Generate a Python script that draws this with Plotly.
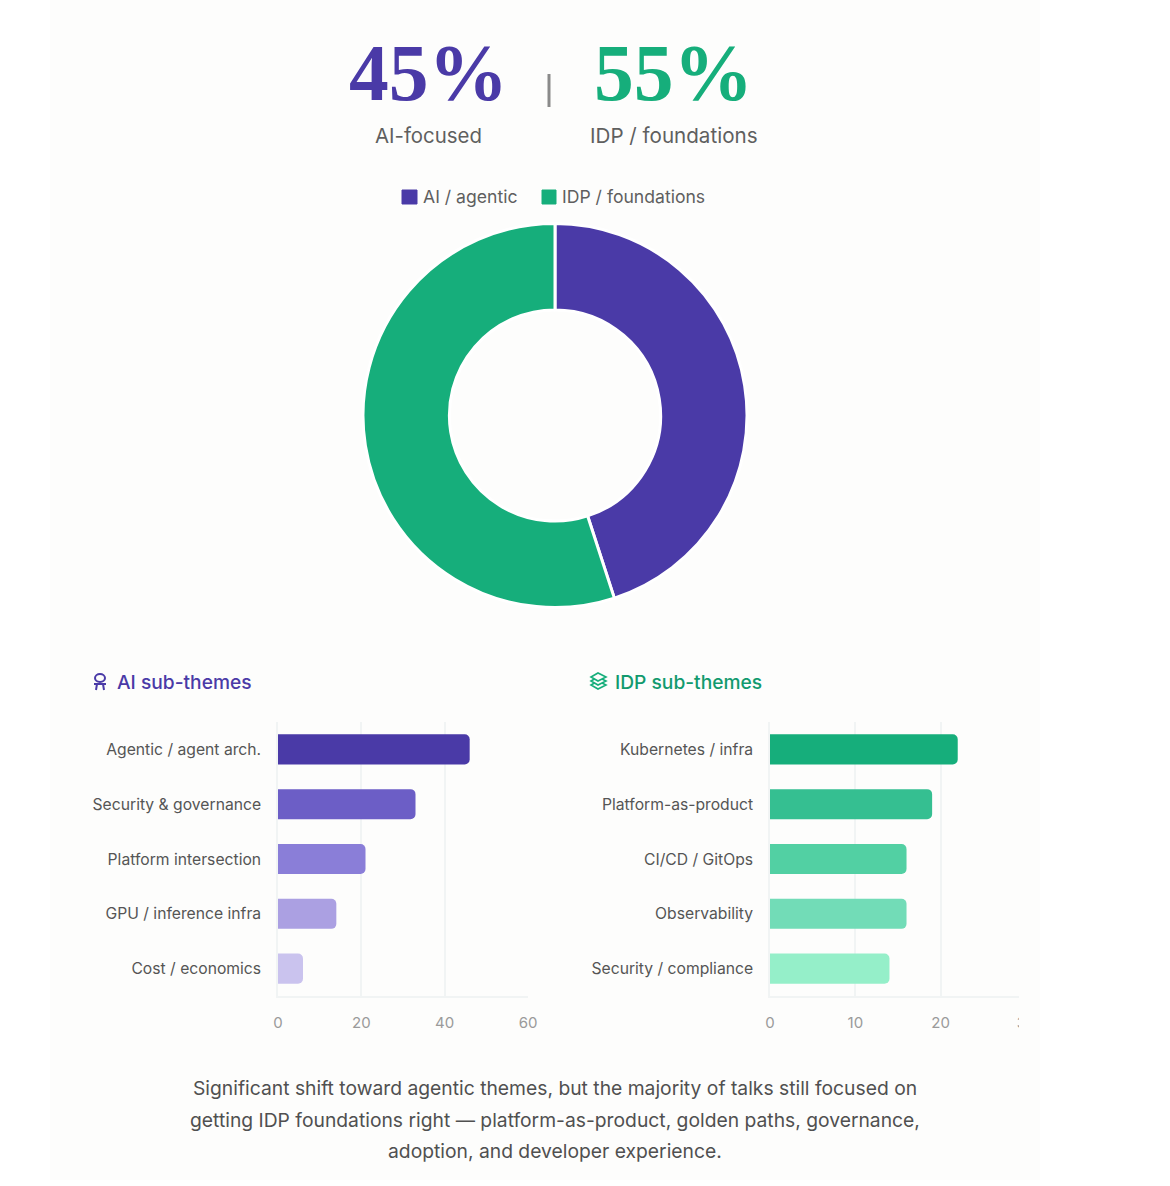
import plotly.graph_objects as go

W, H = 1170, 1186
SANS = "Inter"
SERIF = "Liberation Serif"
PURPLE = "#4a3aa7"
GREEN = "#16ae7b"
CARD = "#fdfdfc"

split_labels = ["AI / agentic", "IDP / foundations"]
split_values = [45, 55]
split_colors = [PURPLE, GREEN]

ai_themes = ["Agentic / agent arch.", "Security & governance", "Platform intersection",
             "GPU / inference infra", "Cost / economics"]
ai_counts = [46, 33, 21, 14, 6]
ai_colors = ["#4a3aa7", "#6c5ec6", "#8a7ed8", "#aba0e2", "#cac3ee"]

idp_themes = ["Kubernetes / infra", "Platform-as-product", "CI/CD / GitOps",
              "Observability", "Security / compliance"]
idp_counts = [22, 19, 16, 16, 14]
idp_colors = ["#16ae7b", "#35bf91", "#52d0a3", "#72dcb7", "#95efc9"]

ai_ticks = [0, 20, 40, 60]
idp_ticks = [0, 10, 20, 30]

caption_lines = [
    "Significant shift toward agentic themes, but the majority of talks still focused on",
    "getting IDP foundations right — platform-as-product, golden paths, governance,",
    "adoption, and developer experience.",
]


def px(x):
    return x / W


def py(y):
    return 1 - y / H


def label(x, y, text, size, color, font=SANS, anchor="center", weight=None):
    return dict(x=px(x), y=py(y), xref="paper", yref="paper", text=text, showarrow=False,
                xanchor=anchor, yanchor="middle",
                font=dict(family=font, size=size, color=color, weight=weight))


def rect(x0, y0, x1, y1, **style):
    return dict(type="rect", xref="paper", yref="paper", x0=px(x0), x1=px(x1),
                y0=py(y0), y1=py(y1), **style)


def stroke(x0, y0, x1, y1, color, width=2, layer="above"):
    return dict(type="line", xref="paper", yref="paper", x0=px(x0), x1=px(x1),
                y0=py(y0), y1=py(y1), layer=layer, line=dict(color=color, width=width))


fig = go.Figure()

fig.add_trace(go.Pie(
    labels=split_labels, values=split_values, sort=False, direction="clockwise", rotation=0,
    hole=0.55, textinfo="none", showlegend=False,
    domain=dict(x=[px(363), px(747)], y=[py(608), py(223)]),
    marker=dict(colors=split_colors, line=dict(color="#ffffff", width=3)),
))

fig.add_trace(go.Bar(
    y=ai_themes, x=ai_counts, orientation="h", xaxis="x", yaxis="y", showlegend=False,
    marker=dict(color=ai_colors, cornerradius=5, line=dict(width=0)),
))
fig.add_trace(go.Bar(
    y=idp_themes, x=idp_counts, orientation="h", xaxis="x2", yaxis="y2", showlegend=False,
    marker=dict(color=idp_colors, cornerradius=5, line=dict(width=0)),
))


def value_axis(x0, x1, top_value, ticks, anchor):
    return dict(domain=[px(x0), px(x1)], range=[0, top_value], tickmode="array", tickvals=ticks,
                anchor=anchor, showgrid=True, gridcolor="#f1f4f4", gridwidth=1.5, zeroline=False,
                showline=True, linecolor="#f1f4f4", linewidth=1.5, ticks="", automargin=False,
                ticklabelstandoff=12,
                tickfont=dict(family=SANS, size=15, color="#9a9a9a"))


def theme_axis(anchor):
    return dict(domain=[py(996), py(722)], autorange="reversed", anchor=anchor, showgrid=False,
                zeroline=False, showline=True, linecolor="#f1f4f4", linewidth=1.5, ticks="",
                automargin=False, ticklabelstandoff=12,
                tickfont=dict(family=SANS, size=15.7, color="#555555"))


annotations = [
    label(428, 73, "45%", 79.5, PURPLE, SERIF, weight="bold"),
    label(673, 73, "55%", 79.5, GREEN, SERIF, weight="bold"),
    label(428, 136, "AI-focused", 20.4, "#5f5f5f"),
    label(674, 136, "IDP / foundations", 20.6, "#5f5f5f"),
    label(115, 682, "AI sub-themes", 19.2, PURPLE, anchor="left", weight=500),
    label(613, 682, "IDP sub-themes", 19.2, "#129a6e", anchor="left", weight=500),
    label(421, 197, split_labels[0], 17.6, "#5f5f5f", anchor="left"),
    label(560, 197, split_labels[1], 17.6, "#5f5f5f", anchor="left"),
]
for line, y in zip(caption_lines, [1088, 1120, 1151]):
    annotations.append(label(555, y, line, 19.3, "#505050"))

shapes = [
    rect(50, 0, 1040, 1180, layer="below", fillcolor=CARD, line=dict(width=0)),
    stroke(549, 74, 549, 107, "#8a8a8a", 3),
    # Colour keys for the donut
    rect(402, 190, 417, 204, layer="above", fillcolor=PURPLE, line=dict(color=PURPLE, width=1)),
    rect(542, 190, 556, 204, layer="above", fillcolor=GREEN, line=dict(color=GREEN, width=1)),
    # Second chart's value axis stops at the edge of its panel
    rect(1019, 985, 1040, 1040, layer="above", fillcolor=CARD, line=dict(width=0)),
    # Robot icon beside the AI heading
    dict(type="circle", xref="paper", yref="paper", layer="above", x0=px(95), x1=px(105),
         y0=py(682), y1=py(674), fillcolor="rgba(0,0,0,0)", line=dict(color=PURPLE, width=2)),
    stroke(94, 684, 106, 684, PURPLE, 2),
    stroke(97, 684, 96, 690, PURPLE, 2),
    stroke(103, 684, 104, 690, PURPLE, 2),
    # Stacked layers icon beside the IDP heading
    *[dict(type="path", xref="paper", yref="paper", layer="above",
           path=f"M {px(591)},{py(y)} L {px(598)},{py(y - 4)} L {px(606)},{py(y)} L {px(598)},{py(y + 4)} Z",
           fillcolor=CARD, line=dict(color=GREEN, width=1.6))
      for y in (685, 681, 677)],
]

fig.update_layout(
    width=W, height=H, margin=dict(l=0, r=0, t=0, b=0), autosize=False,
    paper_bgcolor="#ffffff", plot_bgcolor="rgba(0,0,0,0)", bargap=0.45,
    font=dict(family=SANS), showlegend=False,
    xaxis=value_axis(278, 528, 60, ai_ticks, "y"),
    yaxis=theme_axis("x"),
    xaxis2=value_axis(770, 1026, 30, idp_ticks, "y2"),
    yaxis2=theme_axis("x2"),
    annotations=annotations, shapes=shapes,
)

fig.write_html("out.html")
